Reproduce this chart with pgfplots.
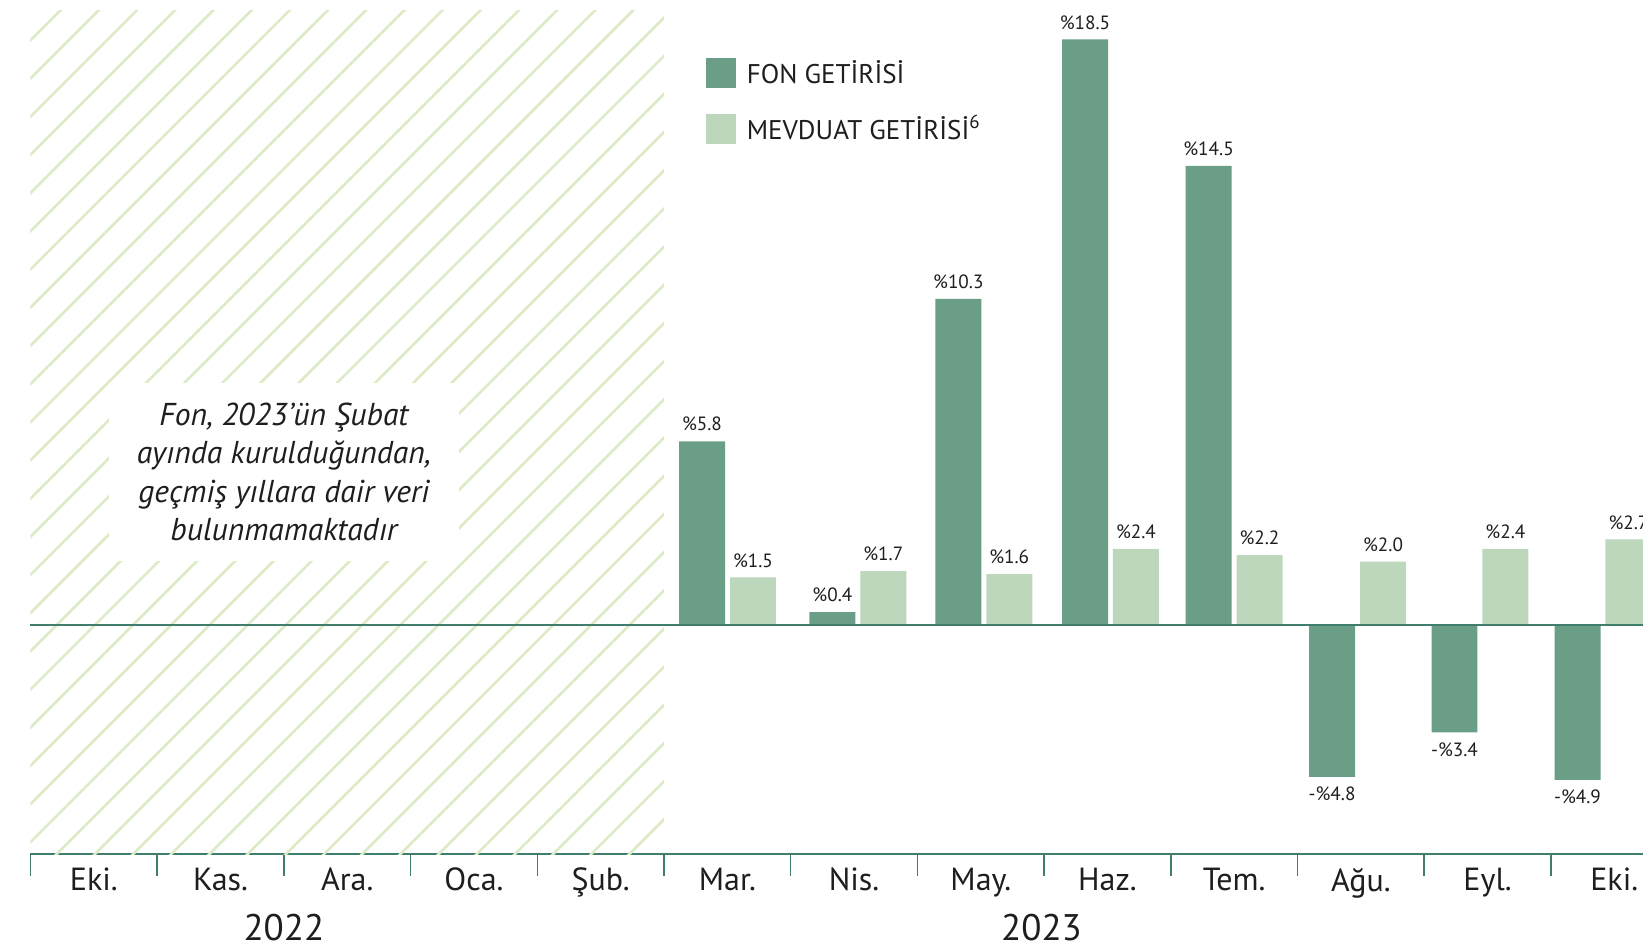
\documentclass[border=0pt]{standalone}
\usepackage{fontspec}
\setmainfont{PT Sans}
\usepackage{pgfplots}
\pgfplotsset{compat=1.18}
\usetikzlibrary{patterns.meta}

\definecolor{fon}{HTML}{6A9E87}
\definecolor{mev}{HTML}{BCD7BB}
\definecolor{axisgreen}{HTML}{3F7D6C}
\definecolor{hatch}{HTML}{DCEBC5}
\definecolor{txt}{HTML}{1E1E1E}

\pgfplotsset{
  barlabel/.style={point meta=explicit symbolic, nodes near coords,
    every node near coord/.append style={font=\fontsize{9.6}{10}\selectfont, text=txt}},
}

\begin{document}
\begin{tikzpicture}
\begin{axis}[
  at={(0,0)}, anchor=south west,
  scale only axis,
  width=823.55pt, height=421.75pt,
  xmin=-0.5, xmax=12.5,
  ymin=-7.24, ymax=19.41,
  axis y line=none,
  axis x line*=bottom,
  x axis line style={color=axisgreen, line width=1pt, -},
  xtick={0,...,12},
  xticklabels={Eki.,Kas.,Ara.,Oca.,Şub.,Mar.,Nis.,May.,Haz.,Tem.,Ağu.,Eyl.,Eki.},
  major tick length=0pt,
  minor xtick={-0.5,0.5,...,12.5},
  minor tick length=11pt,
  tick align=inside,
  minor tick style={color=axisgreen, line width=0.75pt},
  xticklabel style={font=\fontsize{16}{18}\selectfont, text=txt, yshift=-3.5pt},
  ybar,
  bar width=0.363,
  clip=false,
  legend image code/.code={\fill[#1] (0pt,-7.5pt) rectangle (15pt,7.5pt);},
  legend style={at={(rel axis cs:0.4100,0.9457)}, anchor=north west,
    draw=none, fill=none, inner sep=0pt, outer sep=0pt,
    font=\fontsize{13.5}{16}\selectfont, text=txt, row sep=10.5pt,
    /tikz/every odd column/.append style={column sep=3.5pt}},
  legend cell align=left,
]
% hatched area: no data before the fund was launched
\addplot[sharp plot, draw=none, forget plot,
  pattern={Lines[angle=45,distance=13.5pt,line width=1.3pt]}, pattern color=hatch]
  coordinates {(-0.5,-7.24) (4.5,-7.24) (4.5,19.41) (-0.5,19.41)} -- cycle;

\addplot[fill=fon, draw=none, bar shift=-0.201, barlabel,
  every node near coord/.append style={yshift=1.5pt}]
  coordinates {
  (5.001,5.8) [\%5.8]
  (6.030,0.4) [\%0.4]
  (7.024,10.3) [\%10.3]
  (8.024,18.5) [\%18.5]
  (8.999,14.5) [\%14.5]
  };
\addlegendentry{FON GETİRİSİ}

\addplot[fill=mev, draw=none, bar shift=0.201, barlabel,
  every node near coord/.append style={yshift=1.5pt}]
  coordinates {
  (5.001,1.5) [\%1.5]
  (6.030,1.7) [\%1.7]
  (7.024,1.6) [\%1.6]
  (8.024,2.4) [\%2.4]
  (8.999,2.2) [\%2.2]
  (9.974,2.0) [\%2.0]
  (10.940,2.4) [\%2.4]
  (11.911,2.7) [\%2.7]
  };
\addlegendentry{MEVDUAT GETİRİSİ\textsuperscript{6}}

% negative fund returns, labels below the bars
\addplot[fill=fon, draw=none, bar shift=-0.201, barlabel, forget plot,
  every node near coord/.append style={anchor=north, yshift=-1.5pt}]
  coordinates {
  (9.974,-4.8) [-\%4.8]
  (10.940,-3.4) [-\%3.4]
  (11.911,-4.9) [-\%4.9]
  };

% zero line
\addplot[sharp plot, color=axisgreen, line width=1pt, forget plot]
  coordinates {(-0.5,0) (12.5,0)};

\node[fill=white, inner sep=0pt, minimum width=175pt, minimum height=89pt,
  align=center, text=txt, font=\itshape\fontsize{15.8}{19.2}\selectfont]
  at (axis cs:1.5,4.83) {Fon, 2023’ün Şubat\\ayında kurulduğundan,\\geçmiş yıllara dair veri\\bulunmamaktadır};

\node[font=\fontsize{18.5}{20}\selectfont, text=txt] at (axis cs:1.5,-9.57) {2022};
\node[font=\fontsize{18.5}{20}\selectfont, text=txt] at (axis cs:7.48,-9.57) {2023};
\end{axis}
\pgfresetboundingbox
\useasboundingbox (-15.25pt,-47.5pt) rectangle (806.25pt,427pt);
\end{tikzpicture}
\end{document}
